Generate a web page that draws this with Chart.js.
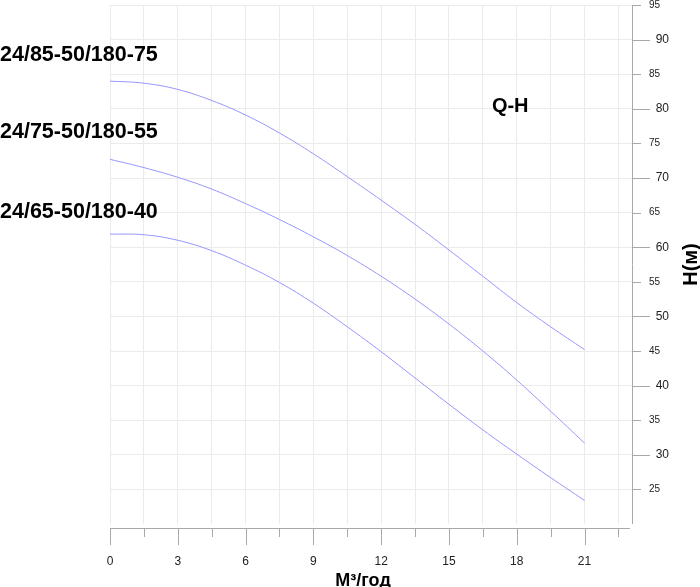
<!DOCTYPE html>
<html>
<head>
<meta charset="utf-8">
<script src="https://cdn.jsdelivr.net/npm/chart.js@4"></script>
<style>
	body { margin: 0; background: #fff; }
	#grafico { display: block; }
</style>
</head>
<body>
<canvas id="grafico" width="700" height="587"></canvas>
<script>
// Подача (м³/год)
var qValues = [0, 1.5, 3, 4.5, 6, 7.5, 9, 10.5, 12, 13.5, 15, 16.5, 18, 19.5, 21];

// Напор H (м) для каждого насоса
var h75 = [84.0, 83.7, 82.8, 81.2, 79.1, 76.5, 73.5, 70.2, 66.8, 63.3, 59.6, 55.8, 52.0, 48.5, 45.2];
var h55 = [72.7, 71.5, 70.1, 68.4, 66.3, 64.0, 61.5, 58.8, 55.8, 52.5, 48.9, 45.0, 40.8, 36.3, 31.7];
var h40 = [61.9, 61.8, 61.0, 59.5, 57.4, 54.9, 51.9, 48.5, 44.9, 41.1, 37.3, 33.6, 30.1, 26.7, 23.4];

var nomesBombas = ["24/85-50/180-75", "24/75-50/180-55", "24/65-50/180-40"];
var posicaoNomes = [86.9, 75.8, 64.2]; // em metros (eixo H)

var xTicks = [0, 1.5, 3, 4.5, 6, 7.5, 9, 10.5, 12, 13.5, 15, 16.5, 18, 19.5, 21, 22.5];
var yTicks = [25, 30, 35, 40, 45, 50, 55, 60, 65, 70, 75, 80, 85, 90, 95];

var fonte = "Arial, 'Liberation Sans', sans-serif";
var corLinha = "rgb(150,150,255)";
var corGrade = "#ebebeb";
var corEixo = "#a8a8a8";

function serie(valores) {
	return {
		data: qValues.map((q, i) => ({ x: q, y: valores[i] })),
		borderColor: corLinha,
		borderWidth: 1,
		pointRadius: 0,
		tension: 0.4,
		fill: false,
	};
}

// Desenha eixos, marcas e textos
var extras = {
	id: "extras",
	afterDraw(chart) {
		var ctx = chart.ctx;
		var area = chart.chartArea;
		var x = chart.scales.x;
		var y = chart.scales.y;
		var baseX = area.bottom + 4;

		ctx.save();
		ctx.strokeStyle = corEixo;
		ctx.lineWidth = 1;
		ctx.beginPath();
		ctx.moveTo(area.left, baseX + 0.5);
		ctx.lineTo(area.right - 2, baseX + 0.5);
		ctx.moveTo(area.right + 0.5, area.top);
		ctx.lineTo(area.right + 0.5, area.bottom);
		for (var i = 0; i < xTicks.length; i++) {
			var px = Math.round(x.getPixelForValue(xTicks[i])) + 0.5;
			var maior = xTicks[i] % 3 == 0;
			ctx.moveTo(px, baseX);
			ctx.lineTo(px, baseX + (maior ? 17 : 9));
		}
		for (var j = 0; j < yTicks.length; j++) {
			var py = Math.round(y.getPixelForValue(yTicks[j])) + 0.5;
			var maiorY = yTicks[j] % 10 == 0;
			ctx.moveTo(area.right, py);
			ctx.lineTo(area.right + (maiorY ? 18 : 9), py);
		}
		ctx.stroke();

		ctx.fillStyle = "#000";
		ctx.textBaseline = "alphabetic";
		ctx.textAlign = "left";
		ctx.font = "bold 21.5px " + fonte;
		for (var k = 0; k < nomesBombas.length; k++) {
			ctx.fillText(nomesBombas[k], 0, y.getPixelForValue(posicaoNomes[k]));
		}

		ctx.font = "bold 20px " + fonte;
		ctx.fillText("Q-H", x.getPixelForValue(16.9), y.getPixelForValue(79.6));

		ctx.textAlign = "center";
		ctx.font = "bold 18px " + fonte;
		ctx.fillText("М³/год", x.getPixelForValue(11.2), 586);

		ctx.translate(697, y.getPixelForValue(57.5));
		ctx.rotate(-Math.PI / 2);
		ctx.font = "bold 20px " + fonte;
		ctx.fillText("H(м)", 0, 0);
		ctx.restore();
	},
};

new Chart(document.getElementById("grafico"), {
	type: "line",
	data: {
		datasets: [serie(h75), serie(h55), serie(h40)],
	},
	options: {
		responsive: false,
		animation: false,
		layout: { padding: { left: 110, top: 5, right: 0, bottom: 0 } },
		plugins: {
			legend: { display: false },
			tooltip: { enabled: false },
		},
		scales: {
			x: {
				type: "linear",
				min: 0,
				max: 23.1,
				afterBuildTicks: (s) => {
					s.ticks = xTicks.map((v) => ({ value: v }));
				},
				afterFit: (s) => {
					s.height = 63;
					s.paddingLeft = 0;
					s.paddingRight = 0;
				},
				grid: { color: corGrade, drawTicks: false },
				border: { display: false },
				ticks: {
					padding: 30,
					autoSkip: false,
					maxRotation: 0,
					color: "#222",
					font: { family: fonte, size: 12 },
					callback: (v) => (v % 3 == 0 ? String(v) : ""),
				},
			},
			y: {
				type: "linear",
				position: "right",
				min: 20,
				max: 95,
				afterBuildTicks: (s) => {
					s.ticks = yTicks.map((v) => ({ value: v }));
				},
				afterFit: (s) => {
					s.width = 68;
					s.paddingTop = 0;
					s.paddingBottom = 0;
				},
				grid: { color: corGrade, drawTicks: false },
				border: { display: false },
				ticks: {
					padding: 17,
					autoSkip: false,
					color: "#222",
					font: (c) => ({
						family: fonte,
						size: c.tick && c.tick.value % 10 == 0 ? 12 : 10,
					}),
					callback: (v) => (v % 10 == 0 ? "  " + v : String(v)),
				},
			},
		},
	},
	plugins: [extras],
});
</script>
</body>
</html>
